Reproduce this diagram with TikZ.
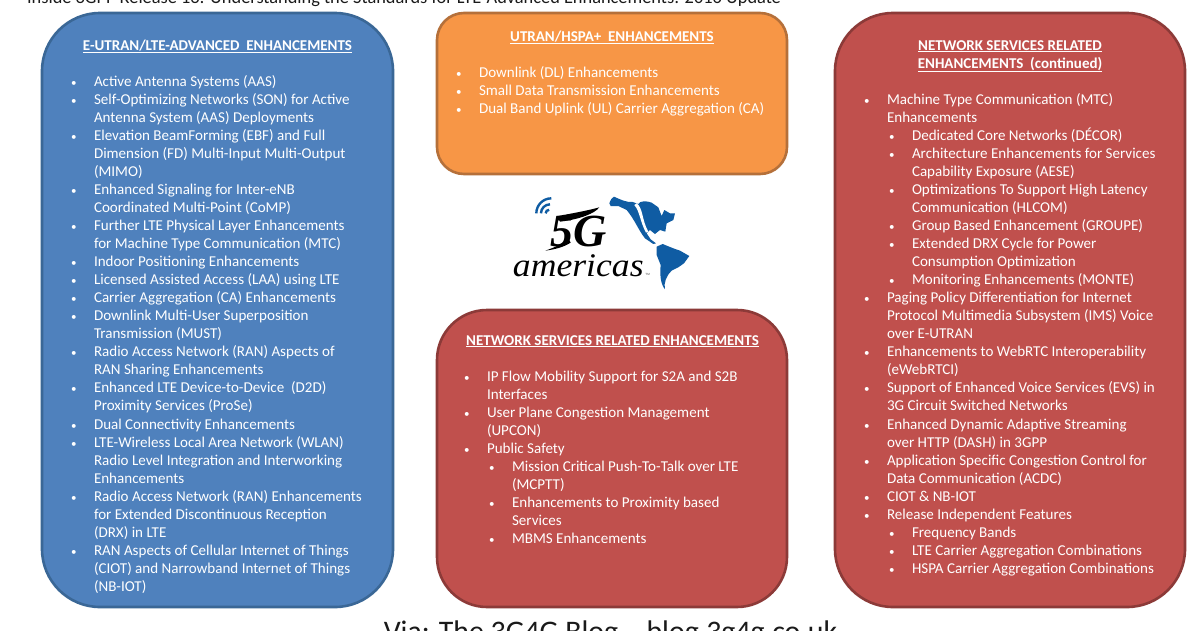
\documentclass[tikz,border=0pt]{standalone}
\usepackage{fontspec}
\setmainfont{Carlito}
\newfontfamily\logoserif{Liberation Serif}
\newfontfamily\logosans{Liberation Sans}
\definecolor{bluefill}{HTML}{4F81BD}
\definecolor{blueedge}{HTML}{3A6796}
\definecolor{orangefill}{HTML}{F79646}
\definecolor{orangeedge}{HTML}{B5703A}
\definecolor{redfill}{HTML}{C0504D}
\definecolor{rededge}{HTML}{8C3A38}
\definecolor{logoblue}{HTML}{0F5CA3}
\definecolor{pagetext}{HTML}{1A1A1A}
\newcounter{ln}
\newcommand\bu[3]{\stepcounter{ln}%
  \node[bullettext,name=b\theln] at (#1-23,#2+5) {•};%
  \node[linetext,name=t\theln] at (#1,#2+5) {#3};}
\newcommand\tx[3]{\stepcounter{ln}\node[linetext,name=t\theln] at (#1,#2+5) {#3};}
\newcommand\ti[3]{\stepcounter{ln}\node[titletext,name=t\theln] at (#1,#2+5) {\underline{#3}};}
\begin{document}
\begin{tikzpicture}[x=1pt,y=-1pt,
  panel/.style={line width=2.6pt},
  linetext/.style={anchor=base west,inner sep=0pt,outer sep=0pt,text=white,font=\fontsize{15.05}{18}\selectfont},
  bullettext/.style={anchor=base west,inner sep=0pt,outer sep=0pt,text=white,font=\fontsize{11}{18}\selectfont},
  titletext/.style={anchor=base,inner sep=0pt,outer sep=0pt,text=white,font=\fontsize{15}{18}\selectfont\bfseries},
  pagecaption/.style={anchor=base,inner sep=0pt,outer sep=0pt,text=pagetext}]
\useasboundingbox (0,0) rectangle (1200,630);
\clip (0,0) rectangle (1200,630);
\fill[white] (0,0) rectangle (1200,630);
\node[pagecaption,font=\fontsize{18.36}{20}\selectfont] (topcap) at (404,3) {Inside 3GPP Release 13: Understanding the Standards for LTE-Advanced Enhancements: 2016 Update};
\node[pagecaption,font=\fontsize{29.85}{32}\selectfont] (botcap) at (610.5,641) {Via: The 3G4G Blog -- blog.3g4g.co.uk};
\draw[panel,fill=bluefill,draw=blueedge,rounded corners=58pt] (42,13) rectangle (393,607);
\draw[panel,fill=orangefill,draw=orangeedge,rounded corners=27pt] (437,13) rectangle (787,174);
\draw[panel,fill=redfill,draw=rededge,rounded corners=50pt] (437,310) rectangle (787,607);
\draw[panel,fill=redfill,draw=rededge,rounded corners=58pt] (835,13) rectangle (1185,607);
% left panel
\ti{217.5}{45}{E-UTRAN/LTE-ADVANCED\ \ ENHANCEMENTS}
\bu{94}{81}{Active Antenna Systems (AAS)}
\bu{94}{99}{Self-Optimizing Networks (SON) for Active}
\tx{94}{117}{Antenna System (AAS) Deployments}
\bu{94}{135}{Elevation BeamForming (EBF) and Full}
\tx{94}{153}{Dimension (FD) Multi-Input Multi-Output}
\tx{94}{171}{(MIMO)}
\bu{94}{189}{Enhanced Signaling for Inter-eNB}
\tx{94}{207}{Coordinated Multi-Point (CoMP)}
\bu{94}{225}{Further LTE Physical Layer Enhancements}
\tx{94}{243}{for Machine Type Communication (MTC)}
\bu{94}{261}{Indoor Positioning Enhancements}
\bu{94}{279}{Licensed Assisted Access (LAA) using LTE}
\bu{94}{297}{Carrier Aggregation (CA) Enhancements}
\bu{94}{315}{Downlink Multi-User Superposition}
\tx{94}{333}{Transmission (MUST)}
\bu{94}{351}{Radio Access Network (RAN) Aspects of}
\tx{94}{369}{RAN Sharing Enhancements}
\bu{94}{387}{Enhanced LTE Device-to-Device\ \ (D2D)}
\tx{94}{405}{Proximity Services (ProSe)}
\bu{94}{424}{Dual Connectivity Enhancements}
\bu{94}{442}{LTE-Wireless Local Area Network (WLAN)}
\tx{94}{460}{Radio Level Integration and Interworking}
\tx{94}{478}{Enhancements}
\bu{94}{496}{Radio Access Network (RAN) Enhancements}
\tx{94}{514}{for Extended Discontinuous Reception}
\tx{94}{532}{(DRX) in LTE}
\bu{94}{550}{RAN Aspects of Cellular Internet of Things}
\tx{94}{568}{(CIOT) and Narrowband Internet of Things}
\tx{94}{586}{(NB-IOT)}
% orange panel
\ti{612}{36}{UTRAN/HSPA+\ \ ENHANCEMENTS}
\bu{479}{72}{Downlink (DL) Enhancements}
\bu{479}{90}{Small Data Transmission Enhancements}
\bu{479}{108}{Dual Band Uplink (UL) Carrier Aggregation (CA)}
% middle red panel
\ti{612.5}{340}{NETWORK SERVICES RELATED ENHANCEMENTS}
\bu{487}{376}{IP Flow Mobility Support for S2A and S2B}
\tx{487}{394}{Interfaces}
\bu{487}{412}{User Plane Congestion Management}
\tx{487}{430}{(UPCON)}
\bu{487}{448}{Public Safety}
\bu{512}{466}{Mission Critical Push-To-Talk over LTE}
\tx{512}{484}{(MCPTT)}
\bu{512}{502}{Enhancements to Proximity based}
\tx{512}{520}{Services}
\bu{512}{538}{MBMS Enhancements}
% right panel
\ti{1010}{45}{NETWORK SERVICES RELATED}
\ti{1010}{63}{ENHANCEMENTS\ \ (continued)}
\bu{887}{99}{Machine Type Communication (MTC)}
\tx{887}{117}{Enhancements}
\bu{912}{135}{Dedicated Core Networks (DÉCOR)}
\bu{912}{153}{Architecture Enhancements for Services}
\tx{912}{171}{Capability Exposure (AESE)}
\bu{912}{189}{Optimizations To Support High Latency}
\tx{912}{207}{Communication (HLCOM)}
\bu{912}{225}{Group Based Enhancement (GROUPE)}
\bu{912}{243}{Extended DRX Cycle for Power}
\tx{912}{261}{Consumption Optimization}
\bu{912}{279}{Monitoring Enhancements (MONTE)}
\bu{887}{297}{Paging Policy Differentiation for Internet}
\tx{887}{315}{Protocol Multimedia Subsystem (IMS) Voice}
\tx{887}{333}{over E-UTRAN}
\bu{887}{351}{Enhancements to WebRTC Interoperability}
\tx{887}{369}{(eWebRTCI)}
\bu{887}{387}{Support of Enhanced Voice Services (EVS) in}
\tx{887}{405}{3G Circuit Switched Networks}
\bu{887}{424}{Enhanced Dynamic Adaptive Streaming}
\tx{887}{442}{over HTTP (DASH) in 3GPP}
\bu{887}{460}{Application Specific Congestion Control for}
\tx{887}{478}{Data Communication (ACDC)}
\bu{887}{496}{CIOT \& NB-IOT}
\bu{887}{514}{Release Independent Features}
\bu{912}{532}{Frequency Bands}
\bu{912}{550}{LTE Carrier Aggregation Combinations}
\bu{912}{568}{HSPA Carrier Aggregation Combinations}
% logo (coordinates from the 3x crop at 480,180)
\begin{scope}[shift={(480,180)},x=0.3333pt,y=-0.3333pt]
\fill[logoblue] (388,70) .. controls (392,60) and (395,52) .. (402,50)
  .. controls (420,58) and (440,68) .. (458,66) -- (475,72)
  .. controls (480,62) and (500,62) .. (515,68) -- (535,82) -- (545,108)
  -- (553,90) -- (570,100) -- (585,100) -- (580,120) -- (560,130) -- (556,155) -- (540,150)
  -- (525,162) -- (510,150) -- (500,160) -- (512,178) -- (528,190) -- (520,192)
  -- (495,175) .. controls (475,150) and (465,120) .. (440,90) -- (415,78) -- (392,78) -- cycle;
\fill[white] (470,70) .. controls (490,85) and (485,120) .. (505,155) -- (498,158) .. controls (480,125) and (480,95) .. (463,75) -- cycle;
\fill[logoblue] (530,200) -- (548,192) -- (580,205) -- (600,212) -- (628,228) -- (612,250) -- (595,262)
  -- (575,272) .. controls (560,285) and (550,310) .. (555,328)
  .. controls (540,310) and (540,280) .. (542,255) -- (530,225) -- cycle;
\draw[logoblue,line width=2.4pt] (169,100) arc[start angle=180,end angle=90,radius=15pt];
\draw[logoblue,line width=2.4pt] (183,100) arc[start angle=180,end angle=90,radius=9pt];
\draw[logoblue,line width=2.4pt] (197,100) arc[start angle=180,end angle=90,radius=3.5pt];
\fill[black] (232,108) .. controls (280,100) and (330,90) .. (358,82) .. controls (345,100) and (300,118) .. (240,125) -- cycle;
\fill[black] (196,212) .. controls (230,200) and (250,190) .. (265,175) -- (272,188) .. controls (250,202) and (225,208) .. (196,212) -- cycle;
\node[inner sep=0pt,text=black,font=\logoserif\bfseries\itshape\fontsize{46}{46}\selectfont] (fiveg) at (297,155) {5G};
\node[inner sep=0pt,text=black,xscale=1.08,font=\logoserif\itshape\fontsize{33}{33}\selectfont] (americas) at (295,256) {americas};
\node[inner sep=0pt,text=black!70,font=\logosans\fontsize{3}{3}\selectfont] (tm) at (503,284) {TM};
\end{scope}
\end{tikzpicture}
\end{document}
